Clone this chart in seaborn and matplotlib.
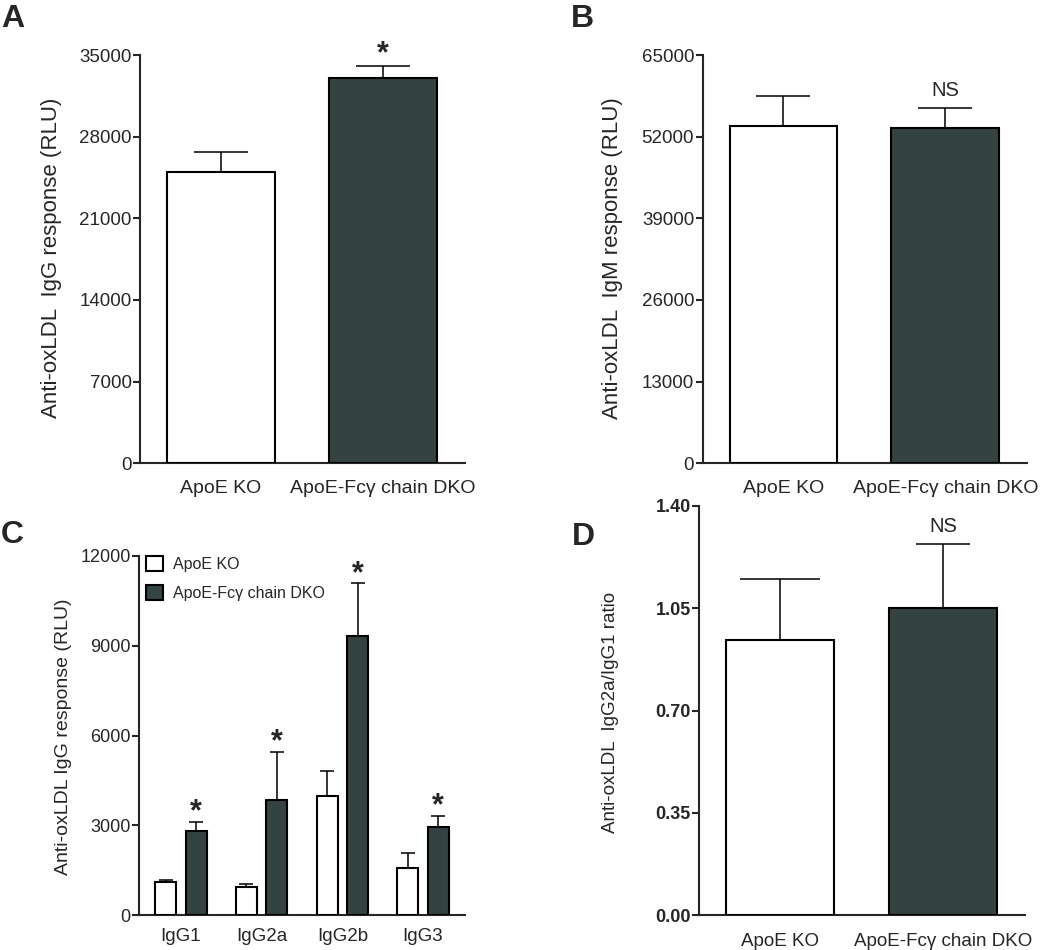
import matplotlib
matplotlib.use("Agg")
import matplotlib.pyplot as plt
from matplotlib.patches import Patch
import numpy as np
import pandas as pd
import seaborn as sns

# ---------------- data ----------------
groups = ["ApoE KO", "ApoE-Fc\u03b3 chain DKO"]

a_mean = [25000, 33000]
a_err = [1650, 1030]
a_marks = ["", "*"]

b_mean = [53700, 53450]
b_err = [4830, 3080]
b_marks = ["", "NS"]

c_sub = ["IgG1", "IgG2a", "IgG2b", "IgG3"]
c_ko = [1100, 950, 3990, 1570]
c_ko_err = [80, 100, 820, 510]
c_dko = [2800, 3840, 9340, 2950]
c_dko_err = [320, 1615, 1750, 370]
c_marks = ["*", "*", "*", "*"]

d_mean = [0.94, 1.05]
d_err = [0.21, 0.22]
d_marks = ["", "NS"]

a_ticks = [0, 7000, 14000, 21000, 28000, 35000]
b_ticks = [0, 13000, 26000, 39000, 52000, 65000]
c_ticks = [0, 3000, 6000, 9000, 12000]
d_ticks = [0.00, 0.35, 0.70, 1.05, 1.40]

# ---------------- style ----------------
WHITE = "#ffffff"
DARK = "#334444"
sns.set_style("ticks")
plt.rcParams["font.family"] = ["Liberation Sans", "DejaVu Sans"]
plt.rcParams["axes.linewidth"] = 1.5

W, H = 1050, 950
fig = plt.figure(figsize=(W / 100, H / 100), dpi=100)


def rect(l, t, r, b):
    return [l / W, 1 - b / H, (r - l) / W, (b - t) / H]


def style_axes(ax, ticks, ylim, xlim, tick_fs, x_fs, xpad, bold=False, fmt=None):
    sns.despine(ax=ax)
    ax.set_ylim(*ylim)
    ax.set_xlim(*xlim)
    ax.set_yticks(ticks)
    if fmt:
        ax.set_yticklabels([fmt % t for t in ticks])
    ax.tick_params(axis="y", length=5, width=1.5, pad=1, labelsize=tick_fs, direction="out")
    ax.tick_params(axis="x", length=0, pad=xpad, labelsize=x_fs)
    ax.set_xlabel("")
    if bold:
        for lab in ax.get_yticklabels():
            lab.set_fontweight("bold")


def add_errors(ax, centers, means, errs, capsizes, lw=1.1):
    for x, m, e, cs in zip(centers, means, errs, capsizes):
        ax.errorbar([x], [m], yerr=[[0], [e]], fmt="none", ecolor="black",
                    elinewidth=lw, capsize=cs, capthick=lw, zorder=5)


def add_marks(ax, centers, tops, marks, star_off, ns_off):
    for x, t, s in zip(centers, tops, marks):
        if not s:
            continue
        if s == "*":
            ax.annotate(s, (x, t), xytext=(0, star_off), textcoords="offset points",
                        ha="center", va="baseline", fontsize=22, fontweight="bold")
        else:
            ax.annotate(s, (x, t), xytext=(0, ns_off), textcoords="offset points",
                        ha="center", va="baseline", fontsize=14.5)


def simple_panel(r, means, errs, marks, ticks, ylabel, lab_xy, lab_fs, xpad,
                 capsizes, bold=False, fmt=None, star_off=3, ns_off=8.5):
    ax = fig.add_axes(rect(*r))
    df = pd.DataFrame({"group": groups, "value": means})
    sns.barplot(data=df, x="group", y="value", hue="group", palette=[WHITE, DARK],
                width=0.665, edgecolor="black", linewidth=1.5, errorbar=None,
                legend=False, ax=ax, zorder=3)
    style_axes(ax, ticks, (0, ticks[-1]), (-0.5, 1.505), 13.5 if not bold else 13,
               14 if not bold else 13.5, xpad, bold=bold, fmt=fmt)
    centers = [p.get_x() + p.get_width() / 2 for p in ax.patches]
    add_errors(ax, centers, means, errs, capsizes)
    tops = [m + e for m, e in zip(means, errs)]
    add_marks(ax, centers, tops, marks, star_off, ns_off)
    ax.set_ylabel(ylabel, fontsize=lab_fs, ha="center", va="center")
    ax.yaxis.set_label_coords(*lab_xy)
    return ax


# Panel A
axA = simple_panel((140, 55, 465, 463.3), a_mean, a_err, a_marks, a_ticks,
                   "Anti-oxLDL  IgG response (RLU)", (-0.271, 0.503), 16, 12,
                   [19.5, 19.5])
# Panel B
axB = simple_panel((702.5, 55, 1027, 463.3), b_mean, b_err, b_marks, b_ticks,
                   "Anti-oxLDL  IgM response (RLU)", (-0.276, 0.503), 16, 12,
                   [19.5, 19.5])
# Panel D
axD = simple_panel((699, 506, 1025, 915), d_mean, d_err, d_marks, d_ticks,
                   "Anti-oxLDL  IgG2a/IgG1 ratio", (-0.27, 0.496), 13.5, 13,
                   [29, 19.5], bold=True, fmt="%.2f")

# Panel C
axC = fig.add_axes(rect(139, 556, 465, 915))
dfc = pd.DataFrame({
    "sub": c_sub * 2,
    "geno": [groups[0]] * len(c_sub) + [groups[1]] * len(c_sub),
    "value": c_ko + c_dko,
})
sns.barplot(data=dfc, x="sub", y="value", hue="geno", palette=[WHITE, DARK],
            width=0.756, gap=0.31, edgecolor="black", linewidth=1.5, errorbar=None,
            legend=False, ax=axC, zorder=3)
style_axes(axC, c_ticks, (0, 12000), (-0.52, 3.52), 13, 13.5, 9.4)
ko_centers = [p.get_x() + p.get_width() / 2 for p in axC.containers[0]]
dko_centers = [p.get_x() + p.get_width() / 2 for p in axC.containers[1]]
add_errors(axC, ko_centers, c_ko, c_ko_err, [5] * 4)
add_errors(axC, dko_centers, c_dko, c_dko_err, [5] * 4)
add_marks(axC, dko_centers, [m + e for m, e in zip(c_dko, c_dko_err)], c_marks, 1, 8)
axC.set_ylabel("Anti-oxLDL IgG response (RLU)", fontsize=14, ha="center", va="center")
axC.yaxis.set_label_coords(-0.233, 0.496)
handles = [Patch(facecolor=WHITE, edgecolor="black", linewidth=1.5),
           Patch(facecolor=DARK, edgecolor="black", linewidth=1.5)]
axC.legend(handles, groups, loc="upper left", bbox_to_anchor=(0.022, 1.0),
           frameon=False, fontsize=11.5, handlelength=1.05, handleheight=1.05,
           handletextpad=0.6, labelspacing=0.85, borderpad=0, borderaxespad=0)

# panel letters
for letter, (px, py) in zip("ABCD", [(1, 4), (571, 4), (1, 520), (572, 522)]):
    fig.text(px / W, 1 - py / H, letter, fontsize=23, fontweight="bold",
             ha="left", va="top")

fig.savefig("out.png", dpi=100)
